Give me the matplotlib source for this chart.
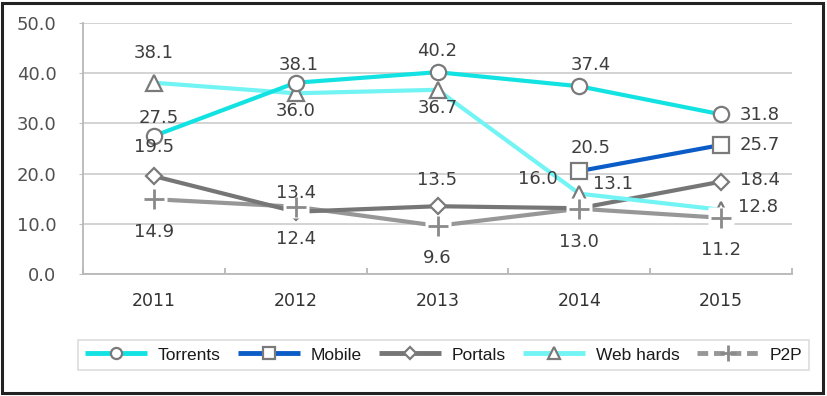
import numpy as np
import matplotlib
matplotlib.use("Agg")
import matplotlib.pyplot as plt
from matplotlib.patches import Rectangle
from matplotlib.ticker import FixedLocator

# ---- data ----
years = ["2011", "2012", "2013", "2014", "2015"]
torrents = [27.5, 38.1, 40.2, 37.4, 31.8]
mobile = [np.nan, np.nan, np.nan, 20.5, 25.7]
portals = [19.5, 12.4, 13.5, 13.1, 18.4]
web_hards = [38.1, 36.0, 36.7, 16.0, 12.8]
p2p = [14.9, 13.4, 9.6, 13.0, 11.2]
series_names = ["Torrents", "Mobile", "Portals", "Web hards", "P2P"]
y_ticks = [0, 10, 20, 30, 40, 50]

# ---- styling ----
W, H, DPI = 827, 396, 100
fig = plt.figure(figsize=(W / DPI, H / DPI), dpi=DPI)
ax = fig.add_axes([83 / W, 1 - 274 / H, (792 - 83) / W, (274 - 23) / H])

x = np.arange(len(years))
mk_edge = "#7a7a7a"
styles = [
    dict(color="#12E2E2", marker="o", ms=11, lw=3.0, z=6),
    dict(color="#0B5CC6", marker="s", ms=11, lw=3.0, z=5),
    dict(color="#767676", marker="D", ms=8, lw=3.0, z=3),
    dict(color="#72F4F4", marker="^", ms=11, lw=3.0, z=4),
    dict(color="#979797", marker="+", ms=14, lw=3.0, z=8),
]
data = [torrents, mobile, portals, web_hards, p2p]

# label offsets in pixels (dx, dy), with horizontal alignment
offsets = [
    [(5, 18, "center"), (3, 18, "center"), (0, 21, "center"), (12, 21, "center"), (19, -1, "left")],
    [None, None, None, (11, 23, "center"), (19, 0, "left")],
    [(0, 29, "center"), (0, -27, "center"), (0, 26, "center"), (14, 24, "left"), (19, 2, "left")],
    [(0, 30, "center"), (0, -18, "center"), (0, -18, "center"), (-22, 15, "right"), (17, 3, "left")],
    [(0, -33, "center"), (0, 14, "center"), (0, -32, "center"), (0, -33, "center"), (0, -32, "center")],
]

mask_marker = [(-1.2, -1.0), (1.2, -1.0), (1.2, 1.0), (-1.2, 1.0), (-1.2, -1.0)]

lines = []
for name, vals, st, offs in zip(series_names, data, styles, offsets):
    if st["marker"] == "+":
        ax.plot(x, vals, color=st["color"], lw=st["lw"], zorder=2, solid_capstyle="butt")
        ax.plot(x, vals, ls="none", marker=mask_marker, ms=19, mfc="white", mec="none",
                zorder=7)
        ln, = ax.plot(x, vals, color=st["color"], lw=st["lw"], ls="none", marker="+",
                      ms=st["ms"], mew=2.0, mec="#8a8a8a", zorder=st["z"], label=name)
    else:
        ln, = ax.plot(x, vals, color=st["color"], lw=st["lw"], marker=st["marker"], ms=st["ms"],
                      mfc="white", mec=mk_edge, mew=1.6, zorder=st["z"], label=name,
                      solid_capstyle="butt")
    lines.append(ln)
    for xi, v, off in zip(x, vals, offs):
        if off is None or np.isnan(v):
            continue
        dx, dy, ha = off
        ax.annotate(f"{v:.1f}", (xi, v), xytext=(dx * 0.72, dy * 0.72),
                    textcoords="offset points", ha=ha, va="center",
                    fontsize=13, color="#3e3e3e", zorder=10)

ax.set_xlim(-0.5, len(years) - 0.5)
ax.set_ylim(0, 50)
ax.set_xticks(x)
ax.set_xticklabels(years)
ax.xaxis.set_minor_locator(FixedLocator(np.arange(-0.5, len(years), 1.0)))
ax.tick_params(axis="x", which="major", length=0, pad=13, labelsize=12.5, labelcolor="#333333")
ax.tick_params(axis="x", which="minor", length=4, direction="in", color="#b0b0b0", width=1.2)
ax.set_yticks(y_ticks)
ax.set_yticklabels([f"{t:.1f}" for t in y_ticks])
ax.tick_params(axis="y", length=3, direction="out", color="#c0c0c0", pad=16,
               labelsize=13, labelcolor="#505050")
ax.grid(axis="y", color="#cccccc", lw=1.2)
ax.set_axisbelow(True)
for s in ["top", "right"]:
    ax.spines[s].set_visible(False)
for s in ["left", "bottom"]:
    ax.spines[s].set_color("#b8b8b8")
    ax.spines[s].set_linewidth(1.3)

leg = fig.legend(handles=lines, loc="center", ncol=5, mode="expand",
                 bbox_to_anchor=(78 / W, 1 - 374 / H, (809 - 78) / W, 38 / H),
                 frameon=True, fancybox=False, handlelength=3.6, handletextpad=0.6,
                 borderaxespad=0, prop={"family": ["Liberation Sans", "DejaVu Sans"], "size": 12.5})
leg.get_frame().set_edgecolor("#d4d4d4")
leg.get_frame().set_linewidth(1.2)
for t in leg.get_texts():
    t.set_color("#1a1a1a")
for h in leg.legend_handles:
    h.set_markersize(8)
    h.set_linewidth(3.5)
leg.legend_handles[2].set_markersize(6.5)
leg.legend_handles[4].set_linestyle((0, (2.2, 1.2)))
leg.legend_handles[4].set_markersize(11)

fig.patches.append(Rectangle((2 / W, 3 / H), (823 - 2) / W, (393 - 3) / H,
                             transform=fig.transFigure, fill=False,
                             edgecolor="#222222", linewidth=2.2))

fig.savefig("out.png", dpi=DPI)
